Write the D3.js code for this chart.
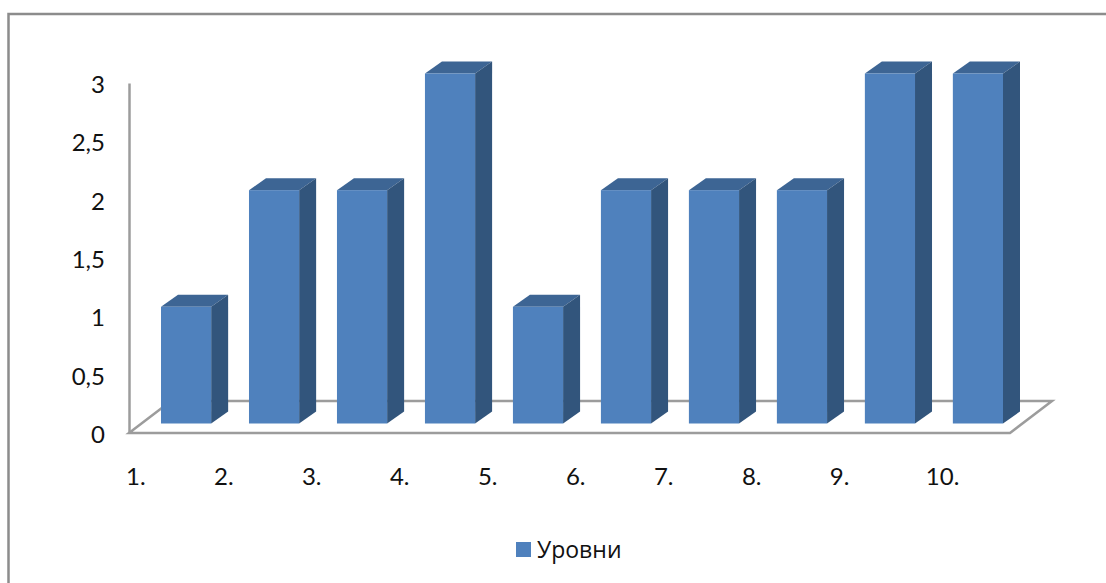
<!DOCTYPE html>
<html>
<head>
<meta charset="utf-8">
<script src="https://cdn.jsdelivr.net/npm/d3@7"></script>
<style>
  html, body { margin: 0; padding: 0; background: #fff; }
  svg { display: block; }
  text { font-family: Lato, "Noto Sans", sans-serif; fill: #111; }
</style>
</head>
<body>
<div id="chart"></div>
<script>
// chart values
var categories = ["1.", "2.", "3.", "4.", "5.", "6.", "7.", "8.", "9.", "10."];
var levels = [1, 2, 2, 3, 1, 2, 2, 2, 3, 3];
var yTicks = [0, 0.5, 1, 1.5, 2, 2.5, 3];
var seriesName = "Уровни";

var width = 1106, height = 583;

// depth of the 3d boxes and of the floor
var depth = {x: 17, y: -12};
var floorDepth = {x: 42, y: -32};

var svg = d3.select("#chart")
  .append("svg")
    .attr("width", width)
    .attr("height", height);

// outer frame, cut off by the picture at right and bottom
svg.append("path")
    .attr("d", "M8.5," + height + "V14H" + width)
    .attr("fill", "none")
    .attr("stroke", "#8c8c8c")
    .attr("stroke-width", 2.5);

var x = d3.scaleBand()
    .domain(categories)
    .range([161, 1003])
    .paddingInner(0.43)
    .paddingOuter(0);

var y = d3.scaleLinear()
    .domain([0, 3])
    .range([433, 83]);

// floor and the back of the chart
var x0 = 129, x1 = 1010, y0 = y(0);
svg.append("path")
    .attr("d", "M" + x0 + "," + y0 + "L" + x1 + "," + y0 +
      "L" + (x1 + floorDepth.x) + "," + (y0 + floorDepth.y) +
      "L" + (x0 + floorDepth.x) + "," + (y0 + floorDepth.y) + "Z")
    .attr("fill", "none")
    .attr("stroke", "#9c9c9c")
    .attr("stroke-width", 2.5);

// Y axis
var yAxis = svg.append("g")
    .attr("transform", "translate(" + x0 + ",0)")
    .call(d3.axisLeft(y)
      .tickValues(yTicks)
      .tickSize(0)
      .tickPadding(24)
      .tickFormat(function(d) { return String(d).replace(".", ","); }));
yAxis.select(".domain")
    .attr("stroke", "#9c9c9c")
    .attr("stroke-width", 2.5);
yAxis.selectAll("text")
    .attr("dy", "0.4em")
    .style("font-size", "24px")
    .style("font-family", "Lato, sans-serif")
    .attr("fill", "#111");

// X labels, the two digit one sits a bit further right
svg.append("g")
    .selectAll("text")
    .data(categories)
    .enter().append("text")
      .attr("x", function(d) { return x(d) - 35 + (d.length > 2 ? 8 : 0); })
      .attr("y", 485)
      .style("font-size", "24px")
      .text(function(d) { return d; });

// bars: the front sits a little above and right of the axis zero
var baseY = 423.5;
var barH = function(d) { return y(0) - y(d); };
var bars = svg.append("g")
    .selectAll("g")
    .data(levels)
    .enter().append("g")
      .attr("transform", function(d, i) {
        return "translate(" + x(categories[i]) + "," + (baseY - barH(d)) + ")";
      });

var bw = x.bandwidth();

// top face
bars.append("path")
    .attr("d", "M0,0L" + depth.x + "," + depth.y + "H" + (bw + depth.x) + "L" + bw + ",0Z")
    .attr("fill", "#3d6594");

// side face
bars.append("path")
    .attr("d", function(d) {
      return "M" + bw + ",0L" + (bw + depth.x) + "," + depth.y +
        "V" + (barH(d) + depth.y) + "L" + bw + "," + barH(d) + "Z";
    })
    .attr("fill", "#32557c");

// front face
bars.append("rect")
    .attr("width", bw)
    .attr("height", barH)
    .attr("fill", "#4f81bd");

// legend
svg.append("rect")
    .attr("x", 516)
    .attr("y", 542)
    .attr("width", 15)
    .attr("height", 15)
    .attr("fill", "#4f81bd");
svg.append("text")
    .attr("x", 537)
    .attr("y", 558)
    .style("font-size", "23px")
    .style("font-family", "'Open Sans', sans-serif")
    .text(seriesName);
</script>
</body>
</html>
